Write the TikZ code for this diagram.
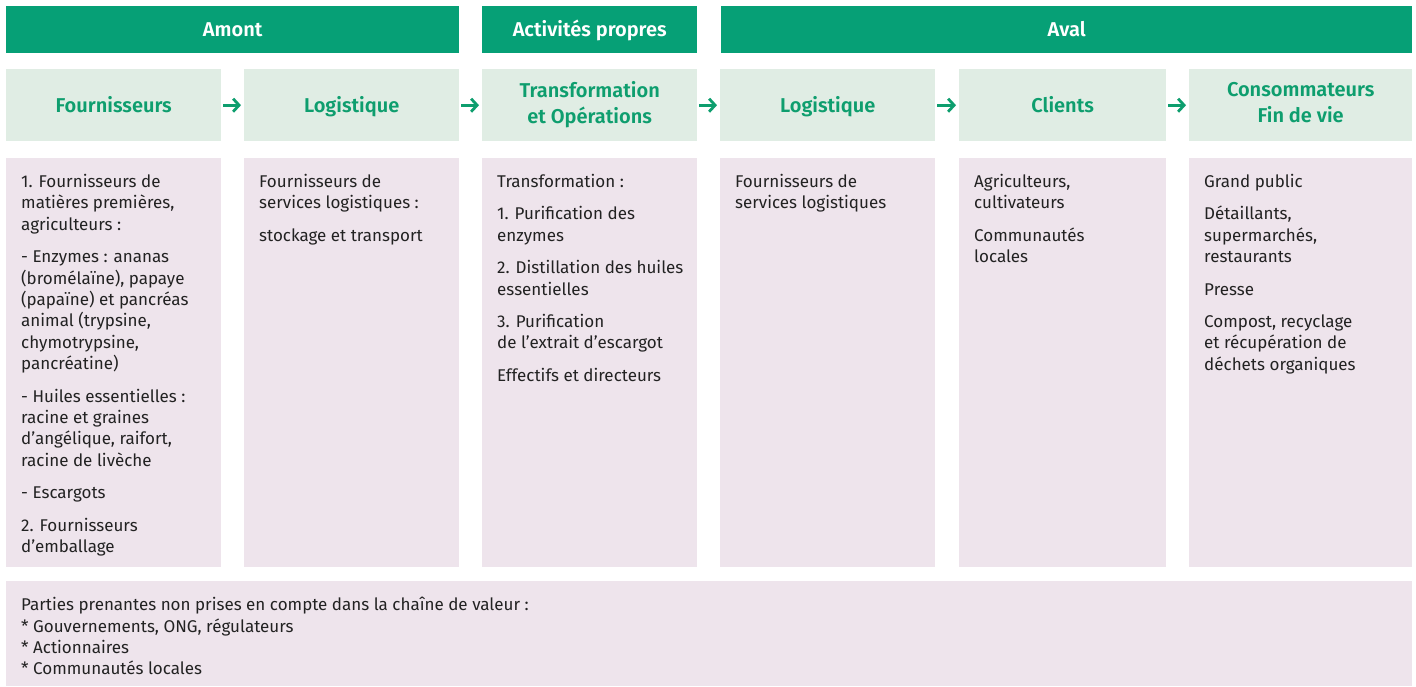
\documentclass[tikz,border=0pt]{standalone}
\usepackage{fontspec}
\setmainfont{Fira Sans}[BoldFont={Fira Sans SemiBold}]
\usetikzlibrary{arrows.meta}
\definecolor{vert}{RGB}{6,160,118}
\definecolor{vertpale}{RGB}{224,237,228}
\definecolor{vertxt}{RGB}{14,158,110}
\definecolor{rose}{RGB}{238,228,236}
\definecolor{encre}{RGB}{34,34,34}

\begin{document}
\begin{tikzpicture}[x=1pt,y=-1pt]
\tikzset{bande/.style={fill=vert,text=white,font=\bfseries\fontsize{20}{24}\selectfont,minimum height=47pt,anchor=north west,inner sep=0pt,text height=14pt,text depth=0pt},
  tete/.style={fill=vertpale,text=vertxt,font=\bfseries\fontsize{20}{26}\selectfont,align=center,minimum height=72pt,anchor=north west,inner sep=0pt,execute at begin node={\rule{0pt}{20pt}},execute at end node={\rule[-6pt]{0pt}{6pt}}},
  corps/.style={fill=rose,minimum height=409pt,anchor=north west,inner sep=0pt},
  txt/.style={text=encre,font=\fontsize{17}{21.4}\selectfont,align=left,anchor=north west,inner sep=0pt},
  fl/.style={draw=vertxt,line width=2.8pt,-{Straight Barb[length=6pt,width=13pt]}}}
\useasboundingbox (0,0) rectangle (1416,686);

\node[bande,minimum width=453pt] (amont) at (6,6) {Amont};
\node[bande,minimum width=215pt] (actpr) at (482,6) {Activités propres};
\node[bande,minimum width=691pt] (aval) at (721,6) {Aval};

\node[tete,minimum width=215pt] (h1) at (6,69) {Fournisseurs};
\node[tete,minimum width=215pt] (h2) at (244,69) {Logistique};
\node[tete,minimum width=215pt] (h3) at (482,69) {Transformation\\et Opérations};
\node[tete,minimum width=215pt] (h4) at (720,69) {Logistique};
\node[tete,minimum width=207pt] (h5) at (959,69) {Clients};
\node[tete,minimum width=223pt] (h6) at (1189,69) {Consommateurs\\Fin de vie};

\foreach \a/\b in {h1/h2,h2/h3,h3/h4,h4/h5,h5/h6}
  \draw[fl] ([xshift=2pt]\a.east) -- ([xshift=-3pt]\b.west);

\node[corps,minimum width=215pt] (b1) at (6,158) {};
\node[corps,minimum width=215pt] (b2) at (244,158) {};
\node[corps,minimum width=215pt] (b3) at (482,158) {};
\node[corps,minimum width=215pt] (b4) at (720,158) {};
\node[corps,minimum width=207pt] (b5) at (959,158) {};
\node[corps,minimum width=223pt] (b6) at (1189,158) {};

\node[txt] (t1) at ([xshift=15pt,yshift=-16pt]b1.north west) {1. Fournisseurs de\\matières premières,\\agriculteurs :\\[11pt]
  - Enzymes : ananas\\(bromélaïne), papaye\\(papaïne) et pancréas\\animal (trypsine,\\chymotrypsine,\\pancréatine)\\[11pt]
  - Huiles essentielles :\\racine et graines\\d’angélique, raifort,\\racine de livèche\\[11pt]
  - Escargots\\[11pt]
  2. Fournisseurs\\d’emballage};
\node[txt] (t2) at ([xshift=15pt,yshift=-16pt]b2.north west) {Fournisseurs de\\services logistiques :\\[11pt]stockage et transport};
\node[txt] (t3) at ([xshift=15pt,yshift=-16pt]b3.north west) {Transformation :\\[11pt]
  1. Purification des\\enzymes\\[11pt]
  2. Distillation des huiles\\essentielles\\[11pt]
  3. Purification\\de l’extrait d’escargot\\[11pt]
  Effectifs et directeurs};
\node[txt] (t4) at ([xshift=15pt,yshift=-16pt]b4.north west) {Fournisseurs de\\services logistiques};
\node[txt] (t5) at ([xshift=15pt,yshift=-16pt]b5.north west) {Agriculteurs,\\cultivateurs\\[11pt]Communautés\\locales};
\node[txt] (t6) at ([xshift=15pt,yshift=-16pt]b6.north west) {Grand public\\[11pt]
  Détaillants,\\supermarchés,\\restaurants\\[11pt]
  Presse\\[11pt]
  Compost, recyclage\\et récupération de\\déchets organiques};

% parties prenantes hors chaine
\node[corps,minimum width=1406pt,minimum height=105pt] (pp) at (6,581) {};
\node[txt] (tpp) at ([xshift=15pt,yshift=-16pt]pp.north west) {Parties prenantes non prises en compte dans la chaîne de valeur :\\
  * Gouvernements, ONG, régulateurs\\* Actionnaires\\* Communautés locales};
\end{tikzpicture}
\end{document}
